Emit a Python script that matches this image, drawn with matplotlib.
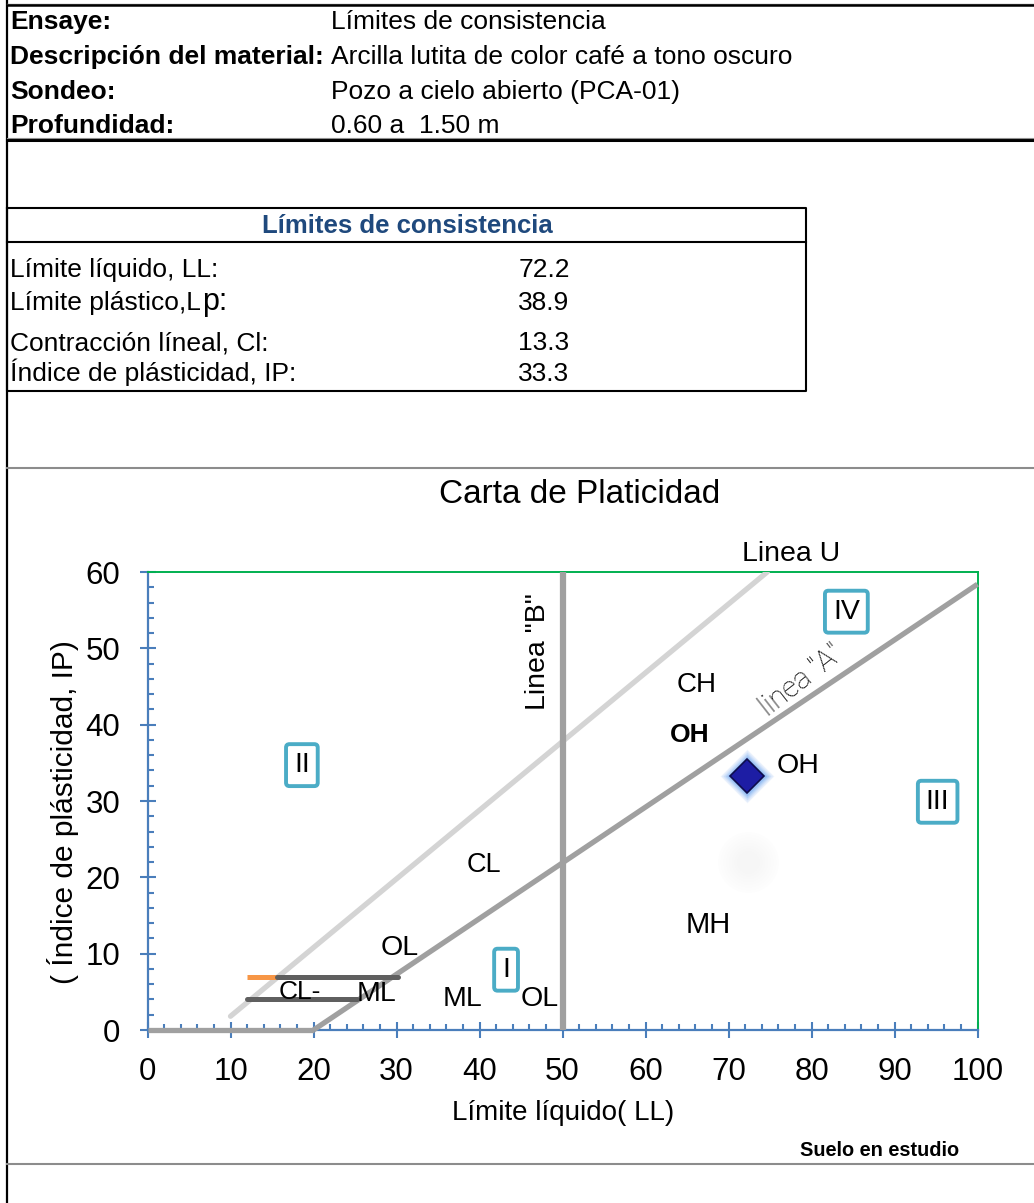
import matplotlib
matplotlib.use("Agg")
import matplotlib.pyplot as plt
from matplotlib.ticker import MultipleLocator

plt.rcParams['font.family'] = ['Liberation Sans', 'DejaVu Sans']

W, H = 1034, 1203

# Encabezado del informe
encabezado_campos = ["Ensaye:", "Descripción del material:", "Sondeo:", "Profundidad:"]
encabezado_valores = ["Límites de consistencia",
                      "Arcilla lutita de color café a tono oscuro",
                      "Pozo a cielo abierto (PCA-01)",
                      "0.60 a  1.50 m"]

# Tabla de resultados
tabla_titulo = "Límites de consistencia"
tabla_conceptos = ["Límite líquido, LL:", "Límite plástico,L", "Contracción líneal, Cl:",
                   "Índice de plásticidad, IP:"]
tabla_valores = [72.2, 38.9, 13.3, 33.3]

# Carta de plasticidad: líneas de referencia
linea_a_ll = [20, 100]
linea_a_ip = [0, 58.4]
base_ll = [0, 20]
base_ip = [0, 0]
linea_u_ll = [10, 74.67]
linea_u_ip = [1.8, 60]
linea_b_ll = [50, 50]
linea_b_ip = [0, 60]
cl_ml_sup_ll = [15.6, 30.2]
cl_ml_sup_ip = [7, 7]
cl_ml_inf_ll = [12.0, 25.2]
cl_ml_inf_ip = [4, 4]
naranja_ll = [12.0, 15.6]
naranja_ip = [7, 7]

# Suelo en estudio (LL, IP)
suelo_ll = [72.2]
suelo_ip = [33.3]
sombra_ll = [72.4]
sombra_ip = [22.0]

# Nombres de zonas
zonas_texto = ["CH", "OH", "CL", "MH", "OL", "CL-", "ML", "ML", "OL"]
zonas_ll = [66.1, 78.4, 40.5, 67.6, 30.4, 18.4, 27.6, 38.0, 47.2]
zonas_ip = [45.2, 34.6, 21.6, 13.7, 10.8, 5.0, 4.7, 4.0, 4.0]
zonas_tam = [20, 20.5, 19.5, 21, 20.5, 19, 20.5, 20.5, 20.5]

zona_negrita = "OH"
zona_negrita_ll, zona_negrita_ip = 65.3, 38.6

# Grupos (recuadros)
grupos_texto = ["I", "II", "III", "IV"]
grupos_ll = [43.2, 18.6, 95.2, 84.2]
grupos_ip = [7.9, 34.7, 29.9, 54.8]

fig = plt.figure(figsize=(W / 100, H / 100), dpi=100)

# Capa de fondo en coordenadas de píxel para el formato de hoja
bg = fig.add_axes([0, 0, 1, 1], zorder=0)
bg.set_xlim(0, W)
bg.set_ylim(H, 0)
bg.axis('off')

bg.plot([7, 7], [0, H], color='black', lw=1.6, solid_capstyle='butt')
bg.plot([7, W], [3.5, 3.5], color='#909090', lw=1.0)
bg.plot([7, W], [5, 5], color='black', lw=1.8)
bg.plot([7, W], [140, 140], color='black', lw=2.2)
bg.plot([7, W], [138, 138], color='#909090', lw=0.8)
bg.plot([7, W], [468, 468], color='#8c8c8c', lw=1.5)
bg.plot([7, W], [1164, 1164], color='#8c8c8c', lw=1.5)

fila_y = [22, 57, 92, 126]
for campo, valor, y in zip(encabezado_campos, encabezado_valores, fila_y):
    bg.text(10, y, campo, fontsize=19, fontweight='bold', va='center', ha='left')
    bg.text(331, y, valor, fontsize=19, va='center', ha='left')

# Tabla
bg.plot([7, 806, 806, 7, 7], [208, 208, 391, 391, 208], color='black', lw=1.5)
bg.plot([7, 806], [242, 242], color='black', lw=1.5)
bg.text(407, 226, tabla_titulo, fontsize=18.5, fontweight='bold', color='#1f497d',
        ha='center', va='center')
tabla_base = [277, 310, 350, 381]
renderer = fig.canvas.get_renderer()
for concepto, valor, yb in zip(tabla_conceptos, tabla_valores, tabla_base):
    t = bg.text(10, yb, concepto, fontsize=19, va='baseline', ha='left')
    bg.text(544, yb, f"{valor:.1f}", fontsize=19, va='baseline', ha='center')
    if concepto.endswith(",L"):
        bb = t.get_window_extent(renderer=renderer)
        xp = bg.transData.inverted().transform((bb.x1, bb.y0))[0]
        bg.text(xp + 1, yb, "p:", fontsize=22, va='baseline', ha='left')

bg.text(880, 1150, "Suelo en estudio", fontsize=14.3, fontweight='bold', ha='center', va='center')

# Carta de plasticidad
x0, x1, y0, y1 = 147.5, 977.5, 1030, 572
ax = fig.add_axes([x0 / W, 1 - y0 / H, (x1 - x0) / W, (y0 - y1) / H], zorder=1)
ax.set_facecolor('none')
ax.set_xlim(0, 100)
ax.set_ylim(0, 60)
ax.xaxis.set_major_locator(MultipleLocator(10))
ax.xaxis.set_minor_locator(MultipleLocator(2))
ax.yaxis.set_major_locator(MultipleLocator(10))
ax.yaxis.set_minor_locator(MultipleLocator(2))
azul = '#4a7ebb'
verde = '#00b050'
ax.tick_params(which='major', direction='inout', length=11, width=1.5, color=azul,
               labelsize=22.5, pad=14)
ax.tick_params(which='minor', direction='in', length=4.5, width=1.5, color=azul)
for lado in ('left', 'bottom'):
    ax.spines[lado].set_color(azul)
    ax.spines[lado].set_linewidth(1.6)
for lado in ('top', 'right'):
    ax.spines[lado].set_color(verde)
    ax.spines[lado].set_linewidth(1.4)

gris = '#a0a0a0'
ax.plot(linea_u_ll, linea_u_ip, color='#d4d4d4', lw=3.8, solid_capstyle='round', zorder=3)
ax.plot(linea_a_ll, linea_a_ip, color=gris, lw=3.8, solid_capstyle='butt', zorder=3, clip_on=False)
ax.plot(base_ll, base_ip, color=gris, lw=3.8, solid_capstyle='butt', zorder=3, clip_on=False)
ax.plot(linea_b_ll, linea_b_ip, color=gris, lw=4.5, solid_capstyle='butt', zorder=3, clip_on=False)
ax.plot(naranja_ll, naranja_ip, color='#f79646', lw=3.6, solid_capstyle='butt', zorder=4)
ax.plot(cl_ml_sup_ll, cl_ml_sup_ip, color='#5f5f5f', lw=3.6, solid_capstyle='round', zorder=4)
ax.plot(cl_ml_inf_ll, cl_ml_inf_ip, color='#5f5f5f', lw=3.6, solid_capstyle='round', zorder=4)

# Sombra tenue
for ms in [44, 40, 36, 32, 28, 24, 20, 16]:
    ax.plot(sombra_ll, sombra_ip, 'o', ms=ms, color='#a8a8a8', alpha=0.012, mec='none', zorder=2)

# Punto del suelo en estudio con halo
for ms, a in [(28, 0.08), (26, 0.12), (24, 0.18), (22, 0.25), (20, 0.35)]:
    ax.plot(suelo_ll, suelo_ip, 'D', ms=ms, color='#6aa4f0', alpha=a, mec='none', zorder=5)
ax.plot(suelo_ll, suelo_ip, 'D', ms=17, mfc='#1d1da4', mec='#0d0d4c', mew=1.2, zorder=6)

for txt, xl, yl, fs in zip(zonas_texto, zonas_ll, zonas_ip, zonas_tam):
    ax.text(xl, yl, txt, fontsize=fs, ha='center', va='center', zorder=7)
ax.text(zona_negrita_ll, zona_negrita_ip, zona_negrita, fontsize=19, fontweight='bold',
        ha='center', va='center', zorder=7)

for txt, xl, yl in zip(grupos_texto, grupos_ll, grupos_ip):
    ax.text(xl, yl, txt, fontsize=20.5, ha='center', va='center', zorder=7,
            bbox=dict(boxstyle='round,pad=0.28,rounding_size=0.12', fc='white',
                      ec='#4bacc6', lw=2.8))

ax.text(77.6, 62.4, "Linea U", fontsize=20.5, ha='center', va='center', clip_on=False)
ax.text(47.05, 49.6, 'Linea "B"', fontsize=20.5, rotation=90, ha='center', va='center')
ax.text(78.8, 45.8, 'linea "A"', fontsize=21, rotation=38, ha='center', va='center',
        family=['Roboto', 'Liberation Sans'], fontweight='light', color='black',
        rotation_mode='anchor')

ax.set_title("Carta de Platicidad", fontsize=24, x=(580 - x0) / (x1 - x0),
             y=(y0 - 503) / (y0 - y1), va='center')
ax.set_xlabel("Límite líquido( LL)", fontsize=20)
ax.xaxis.set_label_coords((563 - x0) / (x1 - x0), (y0 - 1113) / (y0 - y1))
ax.xaxis.label.set_va('center')
ax.set_ylabel("( Índice de plásticidad, IP)", fontsize=21.5)
ax.yaxis.set_label_coords((63 - x0) / (x1 - x0), (y0 - 812) / (y0 - y1))
ax.yaxis.label.set_va('center')

fig.savefig("out.png", dpi=100)
